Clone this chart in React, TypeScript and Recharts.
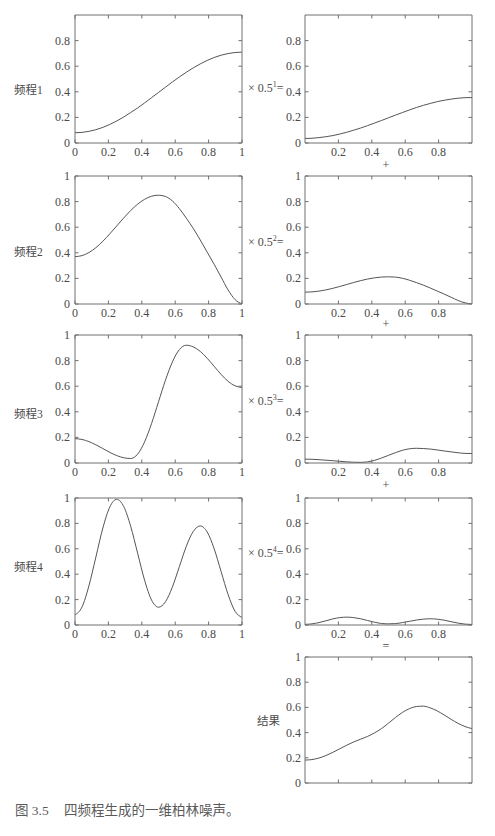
import React from 'react';
import { LineChart, Line, XAxis, YAxis } from 'recharts';

// ---- data ----
const xValues = [0, 0.0417, 0.0833, 0.125, 0.1667, 0.2083, 0.25, 0.2917, 0.3333, 0.375, 0.4167, 0.4583, 0.5, 0.5417, 0.5833, 0.625, 0.6667, 0.7083, 0.75, 0.7917, 0.8333, 0.875, 0.9167, 0.9583, 1];

const octave1 = [0.080, 0.083, 0.091, 0.104, 0.122, 0.145, 0.172, 0.203, 0.238, 0.274, 0.313, 0.354, 0.395, 0.436, 0.477, 0.516, 0.553, 0.587, 0.618, 0.645, 0.668, 0.686, 0.699, 0.707, 0.710];
const octave2 = [0.370, 0.378, 0.402, 0.440, 0.490, 0.548, 0.610, 0.672, 0.730, 0.780, 0.818, 0.842, 0.850, 0.840, 0.805, 0.745, 0.670, 0.590, 0.500, 0.405, 0.310, 0.210, 0.110, 0.035, 0.000];
const octave3 = [0.190, 0.184, 0.167, 0.142, 0.113, 0.083, 0.058, 0.041, 0.035, 0.069, 0.165, 0.308, 0.478, 0.647, 0.790, 0.886, 0.920, 0.907, 0.872, 0.818, 0.755, 0.692, 0.638, 0.603, 0.590];
const octave4 = [0.080, 0.141, 0.308, 0.535, 0.763, 0.929, 0.990, 0.933, 0.778, 0.565, 0.353, 0.197, 0.140, 0.183, 0.300, 0.460, 0.620, 0.737, 0.780, 0.732, 0.600, 0.420, 0.240, 0.108, 0.060];

const scaled1 = [0.035, 0.037, 0.042, 0.049, 0.058, 0.070, 0.084, 0.100, 0.117, 0.136, 0.156, 0.176, 0.197, 0.218, 0.238, 0.258, 0.277, 0.294, 0.309, 0.323, 0.334, 0.343, 0.350, 0.354, 0.355];
const scaled2 = [0.0925, 0.0945, 0.1005, 0.110, 0.1225, 0.137, 0.1525, 0.168, 0.1825, 0.195, 0.2045, 0.2105, 0.2125, 0.210, 0.201, 0.186, 0.1675, 0.1475, 0.125, 0.101, 0.0775, 0.0525, 0.0275, 0.009, 0.0];
const scaled3 = [0.030, 0.029, 0.026, 0.022, 0.018, 0.013, 0.009, 0.006, 0.005, 0.009, 0.021, 0.039, 0.060, 0.081, 0.099, 0.111, 0.115, 0.113, 0.109, 0.102, 0.094, 0.087, 0.080, 0.075, 0.074];
const scaled4 = [0.005, 0.009, 0.019, 0.033, 0.048, 0.058, 0.062, 0.058, 0.049, 0.035, 0.022, 0.012, 0.009, 0.011, 0.019, 0.029, 0.039, 0.046, 0.049, 0.046, 0.038, 0.026, 0.015, 0.007, 0.004];

const resultValues = [0.182, 0.186, 0.198, 0.218, 0.243, 0.272, 0.300, 0.326, 0.348, 0.370, 0.398, 0.432, 0.475, 0.520, 0.560, 0.590, 0.607, 0.610, 0.596, 0.572, 0.540, 0.505, 0.473, 0.448, 0.432];

const leftXTicks = [0, 0.2, 0.4, 0.6, 0.8, 1];
const rightXTicks = [0.2, 0.4, 0.6, 0.8];
const yTicksFirstRow = [0, 0.2, 0.4, 0.6, 0.8];
const yTicksFull = [0, 0.2, 0.4, 0.6, 0.8, 1];

const octaveLabels = ['频程1', '频程2', '频程3', '频程4'];
const scaleExponents = ['1', '2', '3', '4'];
const operatorLabels = ['+', '+', '+', '='];
const resultLabel = '结果';
const captionNumber = '图 3.5';
const captionText = '四频程生成的一维柏林噪声。';

// ---- styling ----
const SERIF = "'Liberation Serif', 'DejaVu Serif', serif";
const CJK = "'Liberation Serif', 'Noto Sans CJK SC', sans-serif";
const TEXT = '#4a4a4a';
const FRAME = '#707070';
const CURVE = '#555555';
const TICK = 3.5;

const PADL = 40;
const PADT = 12;
const PADR = 10;
const PADB = 25;

const buildRows = (vals: number[]) => xValues.map((x, i) => ({ x, v: vals[i] }));

type PanelProps = {
  boxLeft: number;
  boxTop: number;
  boxW: number;
  boxH: number;
  values: number[];
  xTicks: number[];
  yTicks: number[];
  showXLabels: boolean;
  labelGap: number;
};

const fmt = (v: number) => String(v);

const Panel = ({ boxLeft, boxTop, boxW, boxH, values, xTicks, yTicks, showXLabels, labelGap }: PanelProps) => {
  const w = boxW + PADL + PADR;
  const h = boxH + PADT + PADB;
  const data = buildRows(values);
  return (
    <div style={{ position: 'absolute', left: boxLeft - PADL, top: boxTop - PADT }}>
      <LineChart width={w} height={h} data={data} margin={{ top: PADT - 1, left: PADL - 35, right: PADR - 1, bottom: PADB - 20 }}>
        <XAxis
          xAxisId="b"
          dataKey="x"
          type="number"
          domain={[0, 1]}
          ticks={xTicks}
          interval={0}
          height={20}
          tickSize={0}
          tickMargin={0}
          tickLine={false}
          axisLine={{ stroke: FRAME }}
          allowDataOverflow
          tick={(p: any) => (
            <g>
              <line x1={p.x} y1={p.y} x2={p.x} y2={p.y - TICK} stroke={FRAME} />
              {showXLabels && (
                <text x={p.x} y={p.y + 13} textAnchor="middle" fontSize={12} fill={TEXT} fontFamily={SERIF}>
                  {fmt(p.payload.value)}
                </text>
              )}
            </g>
          )}
        />
        <XAxis
          xAxisId="t"
          dataKey="x"
          orientation="top"
          type="number"
          domain={[0, 1]}
          ticks={xTicks}
          interval={0}
          height={1}
          tickSize={0}
          tickMargin={0}
          tickLine={false}
          axisLine={{ stroke: FRAME }}
          allowDataOverflow
          tick={(p: any) => (
            <g>
              <line x1={p.x} y1={p.y} x2={p.x} y2={p.y + TICK} stroke={FRAME} />
            </g>
          )}
        />
        <YAxis
          yAxisId="l"
          type="number"
          domain={[0, 1]}
          ticks={yTicks}
          interval={0}
          width={35}
          tickSize={0}
          tickMargin={0}
          tickLine={false}
          axisLine={{ stroke: FRAME }}
          allowDataOverflow
          tick={(p: any) => (
            <g>
              <line x1={p.x} y1={p.y} x2={p.x + TICK} y2={p.y} stroke={FRAME} />
              <text x={p.x - labelGap} y={p.y + 4} textAnchor="end" fontSize={12} fill={TEXT} fontFamily={SERIF}>
                {fmt(p.payload.value)}
              </text>
            </g>
          )}
        />
        <YAxis
          yAxisId="r"
          orientation="right"
          type="number"
          domain={[0, 1]}
          ticks={yTicks}
          interval={0}
          width={1}
          tickSize={0}
          tickMargin={0}
          tickLine={false}
          axisLine={{ stroke: FRAME }}
          allowDataOverflow
          tick={(p: any) => (
            <g>
              <line x1={p.x} y1={p.y} x2={p.x - TICK} y2={p.y} stroke={FRAME} />
            </g>
          )}
        />
        <Line
          xAxisId="b"
          yAxisId="l"
          dataKey="v"
          type="monotone"
          stroke={CURVE}
          strokeWidth={1}
          dot={false}
          isAnimationActive={false}
        />
      </LineChart>
    </div>
  );
};

const LEFT_X = 75;
const RIGHT_X = 305;
const BOX_W = 167;
const rowBoxes = [
  { top: 15, h: 128 },
  { top: 176, h: 128 },
  { top: 335, h: 128 },
  { top: 498, h: 127 },
];
const resultBox = { top: 657, h: 126 };

const octaveSeries = [octave1, octave2, octave3, octave4];
const scaledSeries = [scaled1, scaled2, scaled3, scaled4];

const octaveLabelY = [94, 256, 418, 571];
const scaleLabelY = [92, 246, 405, 557];
const operatorY = [169, 328, 489, 650];

export default function App() {
  return (
    <div style={{ position: 'absolute', left: 0, top: 0, width: 495, height: 836, background: '#fff', overflow: 'hidden' }}>
      {rowBoxes.map((b, i) => (
        <Panel
          key={'l' + i}
          boxLeft={LEFT_X}
          boxTop={b.top}
          boxW={BOX_W}
          boxH={b.h}
          values={octaveSeries[i]}
          xTicks={leftXTicks}
          yTicks={i === 0 ? yTicksFirstRow : yTicksFull}
          showXLabels={true}
          labelGap={5}
        />
      ))}
      {rowBoxes.map((b, i) => (
        <Panel
          key={'r' + i}
          boxLeft={RIGHT_X}
          boxTop={b.top}
          boxW={BOX_W}
          boxH={b.h}
          values={scaledSeries[i]}
          xTicks={rightXTicks}
          yTicks={i === 0 ? yTicksFirstRow : yTicksFull}
          showXLabels={true}
          labelGap={4}
        />
      ))}
      <Panel
        boxLeft={RIGHT_X}
        boxTop={resultBox.top}
        boxW={BOX_W}
        boxH={resultBox.h}
        values={resultValues}
        xTicks={rightXTicks}
        yTicks={yTicksFull}
        showXLabels={false}
        labelGap={4}
      />
      <svg width={495} height={836} style={{ position: 'absolute', left: 0, top: 0, pointerEvents: 'none' }}>
        {octaveLabels.map((t, i) => (
          <text key={'o' + i} x={14} y={octaveLabelY[i]} fontSize={11.5} fill={TEXT} fontFamily={CJK}>
            {t}
          </text>
        ))}
        {scaleExponents.map((e, i) => (
          <text key={'s' + i} x={248} y={scaleLabelY[i]} fontSize={12} fill={TEXT} fontFamily={SERIF}>
            {'× 0.5'}
            <tspan dy={-5} fontSize={8}>{e}</tspan>
            <tspan dy={5}>{'='}</tspan>
          </text>
        ))}
        {operatorLabels.map((op, i) => (
          <text key={'p' + i} x={386} y={operatorY[i]} fontSize={12} fill={TEXT} fontFamily={SERIF} textAnchor="middle">
            {op}
          </text>
        ))}
        <text x={257} y={725} fontSize={11.5} fill={TEXT} fontFamily={CJK}>
          {resultLabel}
        </text>
        <text x={15} y={815} fontSize={13.5} fill="#5a5a5a" fontFamily={CJK}>
          {captionNumber}
        </text>
        <text x={64} y={815} fontSize={13.5} fill="#5a5a5a" fontFamily={CJK}>
          {captionText}
        </text>
      </svg>
    </div>
  );
}
